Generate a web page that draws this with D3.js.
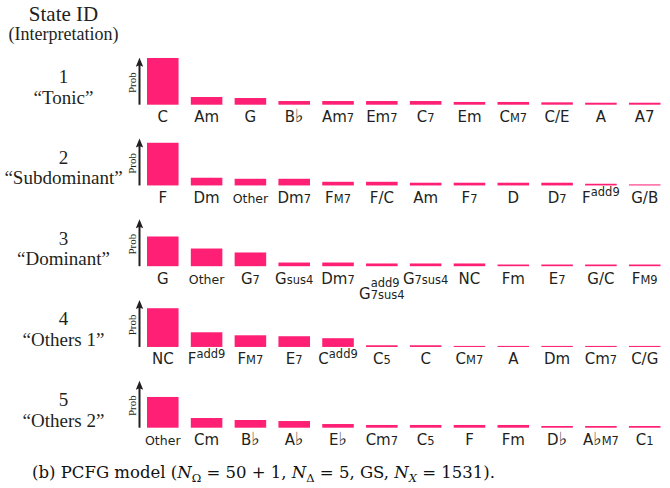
<!DOCTYPE html>
<html>
<head>
<meta charset="utf-8">
<script src="https://cdn.jsdelivr.net/npm/d3@7"></script>
<style>
  body { margin: 0; background: #fff; }
  svg { display: block; background: #fff; }
</style>
</head>
<body>
<svg id="chart"></svg>
<script>
const stateIds = ["1", "2", "3", "4", "5"];
const interpretations = ["“Tonic”", "“Subdominant”", "“Dominant”", "“Others 1”", "“Others 2”"];

// "_" = small suffix on the baseline, "^" = superscript
const chords1 = ["C", "Am", "G", "B♭", "Am_7", "Em_7", "C_7", "Em", "C_M7", "C/E", "A", "A7"];
const probs1 = [0.497, 0.082, 0.071, 0.039, 0.039, 0.039, 0.039, 0.029, 0.029, 0.025, 0.021, 0.021];

const chords2 = ["F", "Dm", "Other", "Dm_7", "F_M7", "F/C", "Am", "F_7", "D", "D_7", "F^add9", "G/B"];
const probs2 = [0.454, 0.082, 0.071, 0.071, 0.039, 0.039, 0.029, 0.029, 0.029, 0.029, 0.018, 0.011];

const chords3 = ["G", "Other", "G_7", "G_sus4", "Dm_7", "G_7sus4^add9", "G_7sus4", "NC", "Fm", "E_7", "G/C", "F_M9"];
const probs3 = [0.316, 0.188, 0.146, 0.039, 0.039, 0.029, 0.029, 0.029, 0.018, 0.018, 0.018, 0.018];

const chords4 = ["NC", "F^add9", "F_M7", "E_7", "C^add9", "C_5", "C", "C_M7", "A", "Dm", "Cm_7", "C/G"];
const probs4 = [0.412, 0.156, 0.124, 0.114, 0.093, 0.018, 0.018, 0.011, 0.011, 0.011, 0.011, 0.011];

const chords5 = ["Other", "Cm", "B♭", "A♭", "E♭", "Cm_7", "C_5", "F", "Fm", "D♭", "A♭_M7", "C_1"];
const probs5 = [0.327, 0.103, 0.082, 0.071, 0.039, 0.029, 0.029, 0.029, 0.029, 0.018, 0.018, 0.018];

const caption = ["(b) PCFG model (", ["N", "Ω"], " = 50 + 1, ", ["N", "Δ"], " = 5, GS, ", ["N", "X"], " = 1531)."];

class StateRows {
    width = 670;
    height = 488;
    firstBottom = 104.7;
    rowStep = 80.75;
    barMax = 47;

    constructor(svg) {
        this.svg = svg;
    }

    initialize() {
        this.svg = d3.select(this.svg)
            .attr("width", this.width)
            .attr("height", this.height);
        this.container = this.svg.append("g");

        this.xScale = d3.scaleBand().range([147, 660.5]).paddingInner(0.28).paddingOuter(0);
        this.hScale = d3.scaleLinear().domain([0, 0.5]).range([0, this.barMax]);

        this.svg.append("text")
            .attr("x", 63.5).attr("y", 20.5)
            .attr("text-anchor", "middle")
            .style("font-family", "Liberation Serif")
            .style("font-size", "21px")
            .style("fill", "#231f20")
            .text("State ID");
        this.svg.append("text")
            .attr("x", 63.5).attr("y", 40)
            .attr("text-anchor", "middle")
            .style("font-family", "Liberation Serif")
            .style("font-size", "18px")
            .style("fill", "#231f20")
            .text("(Interpretation)");
    }

    parseChord(s) {
        let base = s, sub = "", sup = "";
        const i = base.indexOf("^");
        if (i >= 0) { sup = base.slice(i + 1); base = base.slice(0, i); }
        const j = base.indexOf("_");
        if (j >= 0) { sub = base.slice(j + 1); base = base.slice(0, j); }
        return { base, sub, sup };
    }

    addRow(index, chords, probs) {
        const bottom = this.firstBottom + index * this.rowStep;
        const row = this.container.append("g");
        this.xScale.domain(d3.range(chords.length));

        // left labels
        row.append("text")
            .attr("x", 63.5).attr("y", bottom - 21.5)
            .attr("text-anchor", "middle")
            .style("font-family", "Liberation Serif")
            .style("font-size", "19px")
            .style("fill", "#231f20")
            .text(stateIds[index]);
        row.append("text")
            .attr("x", 63.5).attr("y", bottom - 1)
            .attr("text-anchor", "middle")
            .style("font-family", "Liberation Serif")
            .style("font-size", "19px")
            .style("fill", "#231f20")
            .text(interpretations[index]);

        // Prob arrow
        const top = bottom - this.hScale.range()[1];
        row.append("line")
            .attr("x1", 139.5).attr("x2", 139.5)
            .attr("y1", bottom).attr("y2", top + 6)
            .style("stroke", "#231f20")
            .style("stroke-width", 2);
        row.append("path")
            .attr("d", `M139.5,${top}L135.8,${top + 9}L139.5,${top + 7.5}L143.2,${top + 9}Z`)
            .style("fill", "#231f20");
        row.append("text")
            .attr("transform", `translate(132, ${bottom - 22}) rotate(-90)`)
            .attr("text-anchor", "middle")
            .attr("dy", "0.35em")
            .style("font-family", "Liberation Serif")
            .style("font-size", "11px")
            .style("fill", "#231f20")
            .text("Prob");

        row.selectAll("rect")
            .data(probs)
            .join("rect")
            .attr("x", (d, i) => this.xScale(i))
            .attr("y", d => bottom - this.hScale(d))
            .attr("width", this.xScale.bandwidth())
            .attr("height", d => this.hScale(d))
            .style("fill", "#ff1f74");

        const labels = row.selectAll("g.chord")
            .data(chords.map(c => this.parseChord(c)))
            .join("g")
            .attr("class", "chord")
            .style("font-family", "DejaVu Sans")
            .style("fill", "#231f20");

        const self = this;
        labels.each(function (d, i) {
            const g = d3.select(this);
            const stacked = d.sub && d.sup;
            const small = d.base === "Other";
            const base = g.append("text")
                .style("font-size", small ? "12.5px" : "15px");
            // flats drawn a little larger
            d.base.split(/(♭)/).filter(s => s).forEach(s => {
                base.append("tspan")
                    .style("font-size", s === "♭" ? "18px" : null)
                    .text(s);
            });
            const w0 = base.node().getComputedTextLength();
            let w1 = 0, w2 = 0;
            if (d.sub) {
                const t = g.append("text").attr("x", w0).style("font-size", "11.5px").text(d.sub);
                w1 = t.node().getComputedTextLength();
            }
            if (d.sup) {
                const t = g.append("text")
                    .attr("x", w0 + (stacked ? 0 : w1))
                    .attr("y", stacked ? -12.5 : -6.5)
                    .style("font-size", "11.5px")
                    .text(d.sup);
                w2 = t.node().getComputedTextLength();
            }
            const total = stacked ? w0 + Math.max(w1, w2) : w0 + w1 + w2;
            const cx = self.xScale(i) + self.xScale.bandwidth() / 2;
            const y = bottom + 17.3 + (stacked ? 15.5 : 0);
            g.attr("transform", `translate(${cx - total / 2}, ${y})`);
        });
    }

    addCaption(parts) {
        const text = this.svg.append("text")
            .attr("x", 263.5).attr("y", 477.5)
            .attr("text-anchor", "middle")
            .style("font-family", "DejaVu Serif")
            .style("font-size", "16.5px")
            .style("fill", "#111");
        let shift = 0;
        parts.forEach(p => {
            if (typeof p === "string") {
                text.append("tspan").attr("dy", -shift).text(p);
                shift = 0;
            } else {
                text.append("tspan").attr("dy", -shift).style("font-style", "italic").text(p[0]);
                text.append("tspan").attr("dy", 4).style("font-size", "11.5px")
                    .style("font-style", p[1] === "X" ? "italic" : "normal").text(p[1]);
                shift = 4;
            }
        });
    }
}

const chart = new StateRows(document.getElementById("chart"));
chart.initialize();
chart.addRow(0, chords1, probs1);
chart.addRow(1, chords2, probs2);
chart.addRow(2, chords3, probs3);
chart.addRow(3, chords4, probs4);
chart.addRow(4, chords5, probs5);
chart.addCaption(caption);
</script>
</body>
</html>
